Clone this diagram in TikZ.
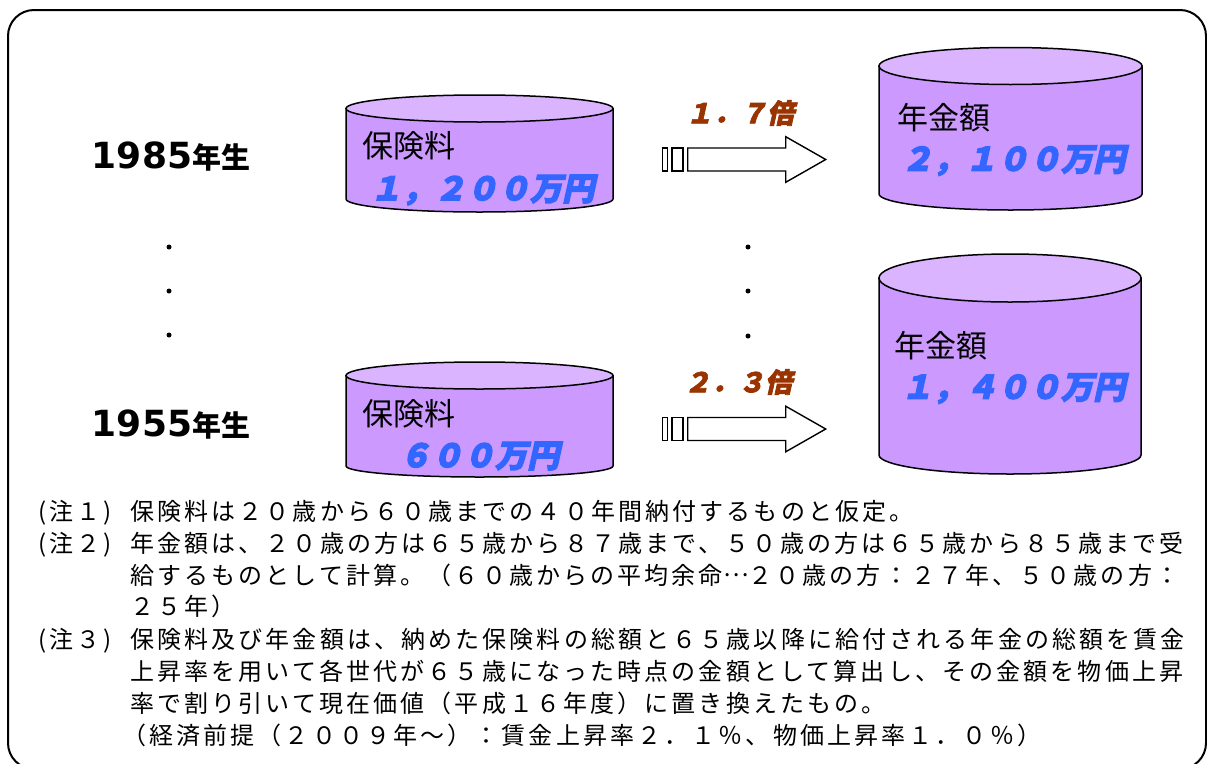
\documentclass[tikz,border=0pt]{standalone}
\usepackage{fontspec}
\newfontfamily\jpsans{Noto Sans CJK JP}
\newfontfamily\notefont{Noto Sans CJK JP}[LetterSpace=13]
\newfontfamily\popfont{Noto Sans CJK JP}[FakeSlant=0.22,FakeBold=4]
\newfontfamily\ratiofont{Noto Sans CJK JP}[FakeSlant=0.22,FakeBold=2.5]
\newfontfamily\yearfont{Noto Sans CJK JP}
\newfontfamily\yeardigits{DejaVu Sans}
\definecolor{cylbody}{RGB}{204,153,255}
\definecolor{cyltop}{RGB}{218,180,255}
\definecolor{popblue}{RGB}{51,102,255}
\definecolor{ratiobrown}{RGB}{153,51,0}
\newcommand{\drawcyl}[6]{%
  % #1 cx, #2 rx, #3 top cy, #4 top ry, #5 bottom cy, #6 bottom ry
  \draw[cylline, fill=cylbody] ({#1-#2},#3) -- ({#1-#2},#5)
     arc[start angle=180, end angle=360, x radius=#2, y radius=#6]
     -- ({#1+#2},#3) -- cycle;
  \draw[cylline, fill=cyltop] (#1,#3) ellipse [x radius=#2, y radius=#4];
}
\newcommand{\yr}[1]{{\yeardigits\bfseries\fontsize{36}{36}\selectfont #1}}
\tikzset{
  cylline/.style={line width=1.5pt, draw=black},
  arrline/.style={line width=1.4pt, draw=black, fill=white},
  cyllabel/.style={anchor=west, inner sep=0pt, font=\jpsans\fontsize{31}{31}\selectfont},
  amount/.style={anchor=west, inner sep=0pt, text=popblue, font=\popfont\bfseries\fontsize{32}{32}\selectfont},
  ratio/.style={inner sep=0pt, text=ratiobrown, font=\ratiofont\bfseries\fontsize{27}{27}\selectfont},
  yearlabel/.style={inner sep=0pt, font=\yearfont\bfseries\fontsize{29}{29}\selectfont},
  noteline/.style={anchor=base west, inner sep=0pt, font=\notefont\fontsize{24}{24}\selectfont},
  dotmark/.style={circle, fill=black, inner sep=0pt, minimum size=5pt},
  blockarrow/.pic={
    \draw[arrline] (0.7,-11.5) rectangle (5.3,11.5);
    \draw[arrline] (10,-11.5) rectangle (21,11.5);
    \draw[arrline] (25.7,11.5) -- (123.7,11.5) -- (123.7,22.8) -- (163.7,0)
       -- (123.7,-22.8) -- (123.7,-11.5) -- (25.7,-11.5) -- cycle;
  }
}
\begin{document}
\begin{tikzpicture}[x=1pt,y=1pt]
\useasboundingbox (0,0) rectangle (1207,-763);
% frame
\draw[line width=2pt, rounded corners=26pt] (8,-10) rectangle (1206,-769);

% year labels
\node[yearlabel] (y1985) at (171,-157) {\yr{1985}年生};
\node[yearlabel] (y1955) at (171,-425) {\yr{1955}年生};

% dots
\node[dotmark] (dl1) at (169,-247) {};
\node[dotmark] (dl2) at (169,-291) {};
\node[dotmark] (dl3) at (169,-335) {};
\node[dotmark] (dm1) at (748,-247) {};
\node[dotmark] (dm2) at (748,-291) {};
\node[dotmark] (dm3) at (748,-336) {};

% cylinders
\drawcyl{479.5}{133.5}{-108.5}{13.5}{-199}{13}
\drawcyl{1010.5}{131.5}{-66}{18.5}{-194}{16}
\drawcyl{1010}{131}{-278}{24}{-455}{19}
\drawcyl{479.5}{133.5}{-375.5}{13.5}{-466}{11}

% cylinder texts
\node[cyllabel] (p1) at (362,-146) {保険料};
\node[amount] (p1v) at (370,-190) {１，２００万円};
\node[cyllabel] (b1) at (897,-117.5) {年金額};
\node[amount] (b1v) at (901,-160.5) {２，１００万円};
\node[cyllabel] (b2) at (894,-346) {年金額};
\node[amount] (b2v) at (901,-388.5) {１，４００万円};
\node[cyllabel] (p2) at (362,-414) {保険料};
\node[amount] (p2v) at (399,-456) {６００万円};

% arrows and ratios
\pic (arr1) at (662,-159.5) {blockarrow};
\pic (arr2) at (662,-429) {blockarrow};
\node[ratio] (r1) at (740,-113) {１．７倍};
\node[ratio] (r2) at (738,-382) {２．３倍};

% notes
\node[noteline] (n1l) at (38,-520) {(注１)};
\node[noteline] (n1) at (130,-520) {保険料は２０歳から６０歳までの４０年間納付するものと仮定。};
\node[noteline] (n2l) at (38,-552) {(注２)};
\node[noteline] (n2a) at (130,-552) {年金額は、２０歳の方は６５歳から８７歳まで、５０歳の方は６５歳から８５歳まで受};
\node[noteline] (n2b) at (130,-584) {給するものとして計算。（６０歳からの平均余命\raisebox{0.3em}{…}２０歳の方：２７年、５０歳の方：};
\node[noteline] (n2c) at (130,-615) {２５年）};
\node[noteline] (n3l) at (38,-648) {(注３)};
\node[noteline] (n3a) at (130,-648) {保険料及び年金額は、納めた保険料の総額と６５歳以降に給付される年金の総額を賃金};
\node[noteline] (n3b) at (130,-680) {上昇率を用いて各世代が６５歳になった時点の金額として算出し、その金額を物価上昇};
\node[noteline] (n3c) at (130,-712) {率で割り引いて現在価値（平成１６年度）に置き換えたもの。};
\node[noteline] (n3d) at (122,-744) {（経済前提（２００９年～）：賃金上昇率２．１％、物価上昇率１．０％）};
\end{tikzpicture}
\end{document}
